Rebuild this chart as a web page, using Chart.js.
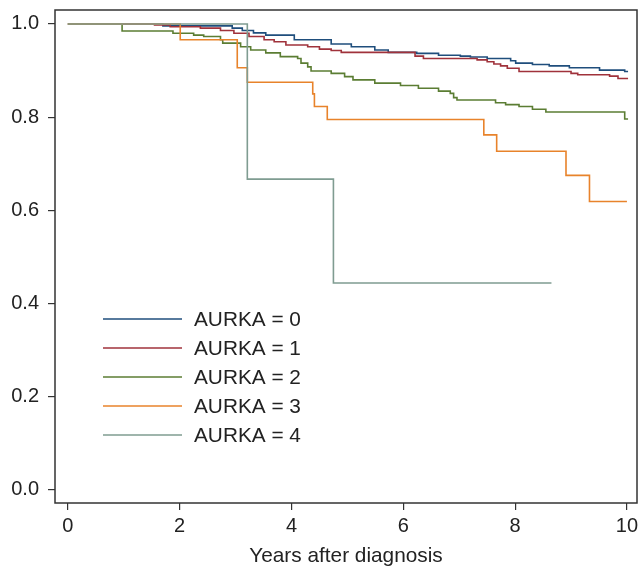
<!DOCTYPE html>
<html>
<head>
<meta charset="utf-8">
<script src="https://cdn.jsdelivr.net/npm/chart.js@4.4.1/dist/chart.umd.min.js"></script>
<style>
  html, body { margin: 0; padding: 0; background: #fff; }
  #wrap { width: 638px; height: 569px; position: relative; }
</style>
</head>
<body>
<div id="wrap"><canvas id="c" width="638" height="569"></canvas></div>
<script>
// ---- Data ----
const seriesLabels = ["AURKA = 0", "AURKA = 1", "AURKA = 2", "AURKA = 3", "AURKA = 4"];

const aurka0Times = [0, 1.7, 2.94, 3.12, 3.32, 3.54, 4.05, 4.71, 5.07, 5.49, 5.73, 6.24, 6.63, 7.02, 7.20, 7.50, 7.92, 8.01, 8.31, 8.61, 8.97, 9.51, 9.96, 10.02];
const aurka0Surv  = [1.0, 0.996, 0.991, 0.986, 0.981, 0.976, 0.966, 0.957, 0.951, 0.944, 0.939, 0.937, 0.933, 0.931, 0.929, 0.926, 0.921, 0.916, 0.913, 0.910, 0.906, 0.901, 0.898, 0.898];

const aurka1Times = [0, 1.55, 1.83, 2.37, 2.73, 2.97, 3.24, 3.51, 3.69, 3.90, 4.29, 4.50, 4.71, 4.89, 6.21, 6.36, 7.32, 7.50, 7.62, 7.74, 7.86, 8.07, 9.00, 9.12, 9.69, 9.84, 10.02];
const aurka1Surv  = [1.0, 0.998, 0.994, 0.991, 0.986, 0.980, 0.973, 0.966, 0.962, 0.955, 0.951, 0.946, 0.943, 0.939, 0.931, 0.926, 0.923, 0.919, 0.914, 0.910, 0.905, 0.898, 0.894, 0.891, 0.888, 0.883, 0.883];

const aurka2Times = [0, 0.97, 1.88, 2.25, 2.43, 2.73, 2.77, 3.09, 3.27, 3.54, 3.80, 4.11, 4.17, 4.29, 4.35, 4.71, 4.95, 5.10, 5.49, 5.95, 6.27, 6.63, 6.84, 6.90, 6.96, 7.65, 7.83, 8.07, 8.31, 8.55, 9.96, 10.02];
const aurka2Surv  = [1.0, 0.985, 0.980, 0.976, 0.973, 0.966, 0.959, 0.951, 0.944, 0.938, 0.930, 0.926, 0.916, 0.908, 0.899, 0.894, 0.887, 0.880, 0.873, 0.868, 0.862, 0.856, 0.851, 0.842, 0.837, 0.831, 0.827, 0.823, 0.817, 0.811, 0.796, 0.796];

const aurka3Times = [0, 2.01, 3.03, 3.21, 4.38, 4.41, 4.64, 7.44, 7.67, 8.91, 9.33, 10.0];
const aurka3Surv  = [1.0, 0.966, 0.906, 0.875, 0.850, 0.823, 0.795, 0.762, 0.727, 0.675, 0.619, 0.619];

const aurka4Times = [0, 3.21, 4.75, 8.65];
const aurka4Surv  = [1.0, 0.667, 0.444, 0.444];

const xTickValues = [0, 2, 4, 6, 8, 10];
const yTickValues = [0, 0.2, 0.4, 0.6, 0.8, 1.0];
const xTitle = "Years after diagnosis";

// ---- Styles ----
const colors = ["#1f4e7c", "#a0323b", "#5b7d33", "#e8832b", "#7f9c91"];
const FONT = "'Liberation Sans', Arial, Helvetica, sans-serif";
const TEXT = "#222222";

const timesList = [aurka0Times, aurka1Times, aurka2Times, aurka3Times, aurka4Times];
const survList = [aurka0Surv, aurka1Surv, aurka2Surv, aurka3Surv, aurka4Surv];

const datasets = seriesLabels.map((lab, i) => ({
  label: lab,
  data: timesList[i].map((t, k) => ({ x: t, y: survList[i][k] })),
  borderColor: colors[i],
  backgroundColor: colors[i],
  borderWidth: 1.6,
  pointRadius: 0,
  stepped: 'before',
  fill: false,
  order: 4 - i
}));

const boxPlugin = {
  id: 'box',
  afterDatasetsDraw(chart) {
    const { ctx, chartArea: a } = chart;
    ctx.save();
    ctx.strokeStyle = '#333333';
    ctx.lineWidth = 1.5;
    ctx.strokeRect(a.left, a.top, a.right - a.left, a.bottom - a.top);
    ctx.restore();
  }
};

const legendPlugin = {
  id: 'insideLegend',
  afterDraw(chart) {
    const { ctx, chartArea: a } = chart;
    ctx.save();
    ctx.font = "20.8px " + FONT;
    ctx.textBaseline = 'middle';
    ctx.textAlign = 'left';
    chart.data.datasets.forEach((ds, i) => {
      const y = 319 + i * 29;
      ctx.strokeStyle = ds.borderColor;
      ctx.lineWidth = 1.6;
      ctx.beginPath();
      ctx.moveTo(a.left + 48, y);
      ctx.lineTo(a.left + 127, y);
      ctx.stroke();
      ctx.fillStyle = TEXT;
      ctx.fillText(ds.label, a.left + 139, y + 1);
    });
    ctx.restore();
  }
};

new Chart(document.getElementById('c'), {
  type: 'line',
  data: { datasets },
  options: {
    responsive: false,
    animation: false,
    events: [],
    layout: { padding: { left: 0, right: 1, top: 10, bottom: 0 } },
    plugins: { legend: { display: false }, tooltip: { enabled: false } },
    scales: {
      x: {
        type: 'linear',
        min: -0.23,
        max: 10.18,
        afterBuildTicks: s => { s.ticks = xTickValues.map(v => ({ value: v })); },
        afterFit: s => { s.height = 66; s.paddingLeft = 0; s.paddingRight = 0; },
        grid: { drawOnChartArea: false, drawTicks: true, tickLength: 7, color: '#333333', lineWidth: 1.2 },
        border: { display: false },
        ticks: { font: { family: FONT, size: 20 }, color: TEXT, padding: 4, maxRotation: 0, callback: v => String(v) },
        title: { display: true, text: xTitle, font: { family: FONT, size: 20.8 }, color: TEXT, padding: { top: 0, bottom: 0 } }
      },
      y: {
        type: 'linear',
        min: -0.028,
        max: 1.03,
        afterBuildTicks: s => { s.ticks = yTickValues.map(v => ({ value: v })); },
        afterFit: s => { s.width = 55; s.paddingTop = 0; s.paddingBottom = 0; },
        grid: { drawOnChartArea: false, drawTicks: true, tickLength: 7, color: '#333333', lineWidth: 1.2 },
        border: { display: false },
        ticks: { font: { family: FONT, size: 20 }, color: TEXT, padding: 9, callback: v => Number(v).toFixed(1) }
      }
    }
  },
  plugins: [boxPlugin, legendPlugin]
});
</script>
</body>
</html>
